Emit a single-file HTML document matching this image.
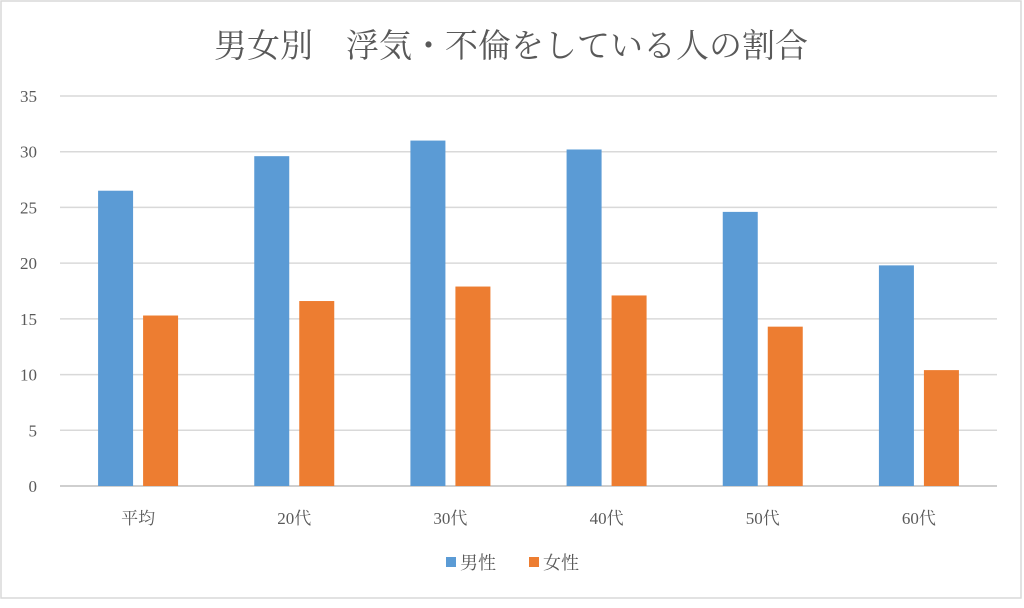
<!DOCTYPE html>
<html><head><meta charset="utf-8"><style>
body{margin:0;background:#fff;}
svg text{font-family:"Liberation Serif","Noto Serif CJK SC","Noto Sans CJK JP",serif;fill:#595959;}
</style></head><body>
<svg width="1024" height="603" viewBox="0 0 1024 603">
<rect x="1" y="1" width="1020" height="597" fill="#fff" stroke="#d9d9d9" stroke-width="1.5"/>
<text x="511" y="57" text-anchor="middle" font-size="33">男女別　浮気・不倫をしている人の割合</text>
<g id="grid"></g><g id="bars"></g><g id="xlabels"></g>
<g>
<rect x="446" y="557" width="10" height="10" fill="#5b9bd5"/>
<text x="460" y="569" font-size="18">男性</text>
<rect x="529" y="557" width="10" height="10" fill="#ed7d31"/>
<text x="543" y="569" font-size="18">女性</text>
</g>
</svg>
<script>
const categories=["平均","20代","30代","40代","50代","60代"];
const male=[26.5,29.6,31.0,30.2,24.6,19.8];
const female=[15.3,16.6,17.9,17.1,14.3,10.4];
const ticks=[0,5,10,15,20,25,30,35];
const NS="http://www.w3.org/2000/svg";
const x0=60,x1=997,y0=486,yTop=96,maxV=35;
const y=v=>y0-(v/maxV)*(y0-yTop);
const band=(x1-x0)/categories.length;
const cx=i=>x0+band*(i+0.5);
function mk(tag,attrs,parent){const e=document.createElementNS(NS,tag);for(const k in attrs)e.setAttribute(k,attrs[k]);document.getElementById(parent).appendChild(e);return e;}
ticks.forEach(t=>{
  const l=mk("line",{x1:x0,x2:x1,y1:y(t),y2:y(t),stroke:t===0?"#bfbfbf":"#d9d9d9","stroke-width":1.5},"grid");
  
  
  const tx=mk("text",{x:37,y:y(t)+6,"text-anchor":"end","font-size":17},"grid");
  tx.textContent=t;
  
  
});
const bw=35,gap=10;
categories.forEach((c,i)=>{
  const m=mk("rect",{x:cx(i)-gap/2-bw,y:y(male[i]),width:bw,height:y0-y(male[i]),fill:"#5b9bd5"},"bars");
  
  
  const f=mk("rect",{x:cx(i)+gap/2,y:y(female[i]),width:bw,height:y0-y(female[i]),fill:"#ed7d31"},"bars");
  
  
  const t=mk("text",{x:cx(i),y:524,"text-anchor":"middle","font-size":17},"xlabels");
  t.textContent=c;
  
  
});
</script>
</body></html>
